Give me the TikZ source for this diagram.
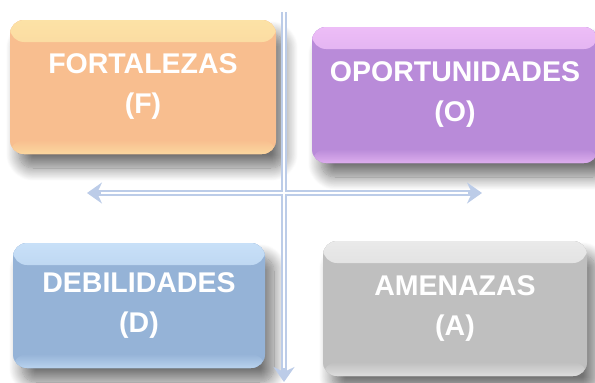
\documentclass[tikz,border=0pt]{standalone}
\usepackage{fontspec}
\setmainfont{Liberation Sans}
\usetikzlibrary{arrows.meta,shadows.blur}

\definecolor{naranja}{HTML}{F8BE8F}
\definecolor{naranjaclaro}{HTML}{FCE2A6}
\definecolor{lila}{HTML}{B98BD9}
\definecolor{lilaclaro}{HTML}{EDBDF7}
\definecolor{azul}{HTML}{95B3D7}
\definecolor{azulclaro}{HTML}{C8E0F8}
\definecolor{gris}{HTML}{BFBFBF}
\definecolor{grisclaro}{HTML}{EAEAEA}
\definecolor{eje}{HTML}{BCCCE8}

\begin{document}
\begin{tikzpicture}[x=1pt,y=-1pt,
	caja/.style 2 args={rounded corners=14pt, align=center, text=white, inner sep=0pt,
		font=\bfseries\fontsize{28.5}{40}\selectfont, fill=#1,
		blur shadow={shadow xshift=9pt, shadow yshift=-14pt, shadow opacity=55, shadow blur steps=16, shadow blur radius=13pt},
		path picture={
			\fill[top color=#2, bottom color=#1] (path picture bounding box.north west)
				rectangle ([yshift=-22pt]path picture bounding box.north east);
			\fill[top color=#1, bottom color=#2!70!#1] ([yshift=14pt]path picture bounding box.south west)
				rectangle (path picture bounding box.south east);
		}},
	ejeflecha/.style={line width=6pt, draw=eje, {Stealth[length=15pt,width=21pt,inset=5pt]}-{Stealth[length=15pt,width=21pt,inset=5pt]}},
	ejeabajo/.style={line width=6pt, draw=eje, -{Stealth[length=15pt,width=21pt,inset=5pt]}},
	ejecentro/.style={line width=2pt, draw=white}]

\useasboundingbox (0,0) rectangle (595,383);

% cuadrantes
\node[caja={naranja}{naranjaclaro}, minimum width=266pt, minimum height=134pt]
	(fortalezas) at (143,87) {FORTALEZAS\\(F)};
\node[caja={lila}{lilaclaro}, minimum width=286pt, minimum height=136pt]
	(oportunidades) at (455,95) {OPORTUNIDADES\\(O)};
\node[caja={azul}{azulclaro}, minimum width=252pt, minimum height=125pt]
	(debilidades) at (139,305.5) {DEBILIDADES\\(D)};
\node[caja={gris}{grisclaro}, minimum width=264pt, minimum height=135pt]
	(amenazas) at (455,308.5) {AMENAZAS\\(A)};

% ejes
\coordinate (ejeN) at (284,12);
\coordinate (ejeS) at (284,382);
\coordinate (ejeO) at (87,193);
\coordinate (ejeE) at (482,193);

\draw[ejeabajo] (ejeN) -- (ejeS);
\draw[ejeflecha] (ejeO) -- (ejeE);
\draw[ejecentro, shorten >=14pt] (ejeN) -- (ejeS);
\draw[ejecentro, shorten >=14pt, shorten <=14pt] (ejeO) -- (ejeE);

\end{tikzpicture}
\end{document}
